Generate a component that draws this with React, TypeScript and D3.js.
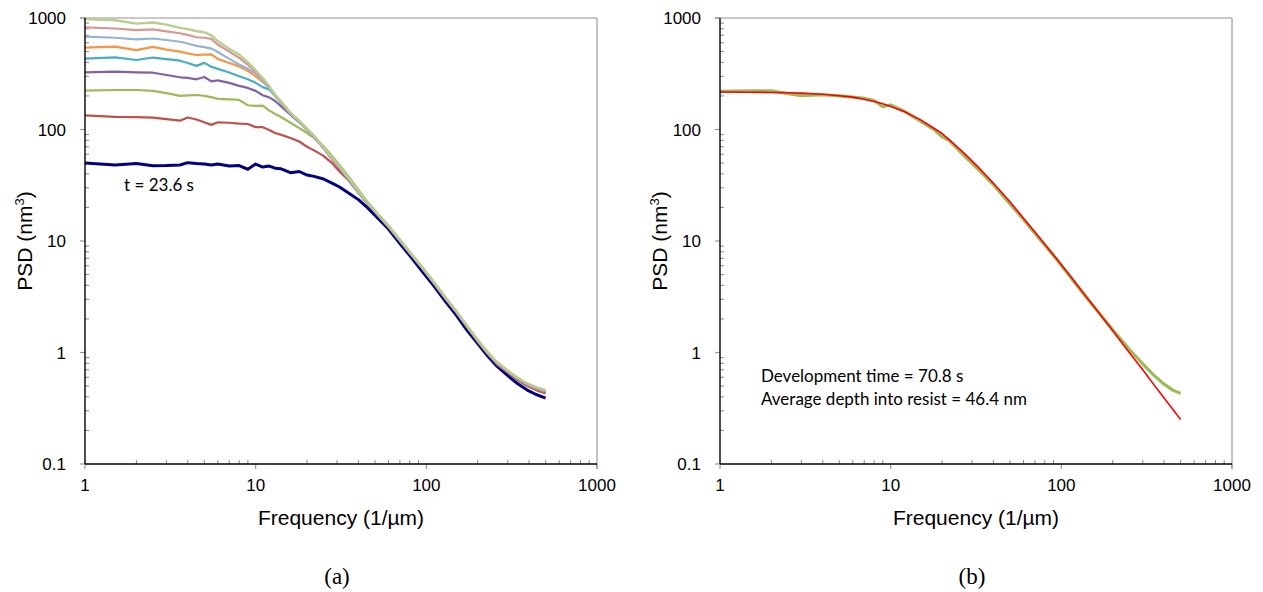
import React from 'react';
import * as d3 from 'd3';

// frequencies (1/um) at which the curves of panel (a) were read
const FREQ_A = [1, 1.5, 2, 2.5, 3, 3.6, 4, 4.5, 5, 5.5, 6, 7, 8, 9, 10, 11, 12, 13, 14, 16, 18, 20, 22, 25, 28, 31, 35, 40, 45, 52, 60, 70, 80, 95, 110, 130, 150, 175, 200, 230, 260, 300, 340, 390, 440, 500];

// PSD (nm^3), one list per development time, shortest first
const PSD_NAVY = [50, 48, 49.5, 47.4, 47.5, 48, 50.4, 49.5, 49, 48, 49, 47, 47.5, 44, 49, 46, 47, 45, 44.5, 41, 42, 39, 38, 36, 33, 30.5, 27, 23.5, 20, 16, 12.8, 9.5, 7.4, 5.3, 4.0, 2.85, 2.15, 1.55, 1.2, 0.92, 0.75, 0.62, 0.53, 0.46, 0.42, 0.39];
const PSD_RED = [134, 130, 129, 128, 124, 120, 128, 123, 116, 110, 116, 115, 113, 112, 105, 105, 99, 93, 90, 84, 78, 70, 65, 58, 50, 42, 35, 27, 21.8, 17, 13.3, 10, 7.75, 5.63, 4.22, 3.0, 2.28, 1.65, 1.25, 0.96, 0.78, 0.66, 0.57, 0.5, 0.46, 0.43];
const PSD_GREEN = [223, 226, 226, 222, 212, 200, 202, 204, 200, 195, 188, 186, 184, 165, 163, 164, 148, 138, 130, 115, 103, 93, 84, 71, 58, 48, 38, 28.8, 22.8, 17.5, 13.6, 10.1, 7.85, 5.7, 4.27, 3.04, 2.31, 1.67, 1.27, 0.98, 0.8, 0.67, 0.58, 0.51, 0.47, 0.44];
const PSD_PURPLE = [326, 330, 326, 323, 308, 294, 290, 282, 296, 270, 276, 262, 246, 236, 222, 203, 194, 180, 163, 136, 116, 99, 85, 68, 54, 45, 35.8, 27.2, 21.9, 17.1, 13.4, 10.05, 7.8, 5.68, 4.26, 3.04, 2.31, 1.67, 1.27, 0.98, 0.8, 0.67, 0.58, 0.51, 0.47, 0.44];
const PSD_TEAL = [432, 444, 420, 442, 428, 414, 395, 372, 396, 365, 350, 325, 300, 282, 262, 240, 228, 200, 176, 139, 117, 99.5, 85.5, 68.5, 54.5, 45.5, 36, 27.3, 22, 17.2, 13.5, 10.1, 7.85, 5.7, 4.28, 3.05, 2.32, 1.68, 1.28, 0.98, 0.8, 0.68, 0.59, 0.52, 0.48, 0.45];
const PSD_ORANGE = [542, 553, 515, 550, 520, 499, 482, 466, 470, 472, 430, 395, 368, 335, 300, 268, 238, 204, 178, 140, 118, 100, 86, 69, 55, 46, 36.5, 27.5, 22.2, 17.3, 13.6, 10.2, 7.9, 5.75, 4.3, 3.08, 2.33, 1.69, 1.29, 0.99, 0.81, 0.68, 0.59, 0.52, 0.48, 0.45];
const PSD_LIGHTBLUE = [680, 665, 642, 655, 635, 612, 590, 562, 548, 532, 495, 430, 383, 350, 318, 272, 235, 200, 176, 139, 117, 99, 85, 68.5, 54.5, 45.5, 36, 27.3, 22, 17.2, 13.5, 10.1, 7.85, 5.7, 4.28, 3.05, 2.32, 1.68, 1.28, 0.98, 0.8, 0.68, 0.59, 0.52, 0.48, 0.45];
const PSD_PINK = [825, 805, 778, 790, 760, 730, 705, 672, 665, 650, 575, 500, 440, 380, 330, 282, 240, 203, 177, 140, 118, 100, 86, 69, 55, 46, 36.5, 27.5, 22.2, 17.3, 13.6, 10.2, 7.9, 5.75, 4.3, 3.08, 2.33, 1.69, 1.29, 0.99, 0.81, 0.68, 0.59, 0.52, 0.48, 0.45];
const PSD_LIGHTGREEN = [980, 955, 890, 912, 872, 815, 795, 760, 745, 700, 620, 530, 470, 400, 340, 290, 245, 205, 180, 142, 120, 102, 88, 70, 56, 47, 37, 28, 22.5, 17.5, 13.8, 10.3, 8.0, 5.8, 4.35, 3.1, 2.35, 1.7, 1.3, 1.0, 0.82, 0.69, 0.6, 0.53, 0.49, 0.46];

// panel (b): measured PSD at 70.8 s and the fitted curve
const FREQ_B = [1, 1.5, 2, 2.5, 3, 4, 5, 6, 7, 8, 9, 10, 12, 15, 18, 20, 22, 27, 33, 40, 50, 60, 75, 90, 110, 135, 165, 200, 250, 300, 350, 400, 450, 500];
const PSD_MEASURED = [220, 222, 222, 210, 201, 205, 200, 195, 190, 182, 160, 166, 146, 118, 100, 86, 80, 58, 43, 32, 21.5, 15.6, 10.3, 7.4, 5.0, 3.35, 2.3, 1.6, 1.07, 0.79, 0.62, 0.52, 0.46, 0.43];
const PSD_FIT = [217, 216, 215, 213.5, 212, 207, 201, 195, 187, 178, 170, 161, 145, 122, 102, 92, 81, 61, 45, 33, 22.5, 16, 10.6, 7.5, 5.1, 3.4, 2.3, 1.57, 1.0, 0.7, 0.51, 0.39, 0.31, 0.25];

const X_TICKS = [1, 10, 100, 1000];
const Y_TICKS = [0.1, 1, 10, 100, 1000];

type Series = { color: string; width: number; freq: number[]; values: number[] };

const seriesA: Series[] = [
  { color: '#000080', width: 3, freq: FREQ_A, values: PSD_NAVY },
  { color: '#C0504D', width: 2.2, freq: FREQ_A, values: PSD_RED },
  { color: '#9BBB59', width: 2.2, freq: FREQ_A, values: PSD_GREEN },
  { color: '#8064A2', width: 2.2, freq: FREQ_A, values: PSD_PURPLE },
  { color: '#4BACC6', width: 2.2, freq: FREQ_A, values: PSD_TEAL },
  { color: '#F79646', width: 2.2, freq: FREQ_A, values: PSD_ORANGE },
  { color: '#95B3D7', width: 2.2, freq: FREQ_A, values: PSD_LIGHTBLUE },
  { color: '#D99694', width: 2.2, freq: FREQ_A, values: PSD_PINK },
  { color: '#B6CF8F', width: 2.4, freq: FREQ_A, values: PSD_LIGHTGREEN },
];

const seriesB: Series[] = [
  { color: '#9BBB59', width: 3.2, freq: FREQ_B, values: PSD_MEASURED },
  { color: '#FF0000', width: 1.6, freq: FREQ_B, values: PSD_FIT },
];

const minors = (decades: number[]) =>
  decades.flatMap(d => d3.range(2, 10).map(m => d * m));

function Panel({ left, right, top, bottom, series, caption, notes }: {
  left: number; right: number; top: number; bottom: number;
  series: Series[]; caption: string; notes: { text: string; dx: number; y: number }[];
}) {
  const x = d3.scaleLog().domain([1, 1000]).range([left, right]);
  const y = d3.scaleLog().domain([0.1, 1000]).range([bottom, top]);
  const line = d3.line<[number, number]>().x(d => x(d[0])).y(d => y(d[1]));
  const cx = (left + right) / 2;
  const tickFont = { fontFamily: 'Liberation Sans, Arial, sans-serif', fontSize: 17, fill: '#000' };

  return (
    <g>
      {/* frame */}
      <line x1={left - 5} x2={right} y1={top} y2={top} stroke="#c8c8c8" strokeWidth={2} />
      <line x1={right} x2={right} y1={top} y2={bottom + 5} stroke="#b0b0b0" strokeWidth={1.5} />

      {/* minor ticks */}
      {minors([1, 10, 100]).map(v => (
        <line key={'mx' + v} x1={x(v)} x2={x(v)} y1={bottom} y2={bottom - 4} stroke="#888" strokeWidth={1} />
      ))}
      {minors([0.1, 1, 10, 100]).map(v => (
        <line key={'my' + v} x1={left} x2={left + 4} y1={y(v)} y2={y(v)} stroke="#888" strokeWidth={1} />
      ))}
      {/* major ticks */}
      {X_TICKS.map(v => (
        <line key={'tx' + v} x1={x(v)} x2={x(v)} y1={bottom} y2={bottom + 5} stroke="#999" strokeWidth={1.2} />
      ))}
      {Y_TICKS.map(v => (
        <line key={'ty' + v} x1={left - 5} x2={left} y1={y(v)} y2={y(v)} stroke="#999" strokeWidth={1.2} />
      ))}

      {/* curves */}
      {series.map((s, i) => (
        <path key={i} d={line(s.freq.map((f, j) => [f, s.values[j]] as [number, number])) || ''}
          fill="none" stroke={s.color} strokeWidth={s.width} strokeLinejoin="round" />
      ))}

      {/* axes */}
      <line x1={left} x2={right} y1={bottom} y2={bottom} stroke="#000" strokeWidth={1.4} />
      <line x1={left} x2={left} y1={top} y2={bottom} stroke="#000" strokeWidth={1.4} />

      {X_TICKS.map(v => (
        <text key={'lx' + v} x={x(v)} y={bottom + 27} textAnchor="middle" {...tickFont}>{v}</text>
      ))}
      {Y_TICKS.map(v => (
        <text key={'ly' + v} x={left - 19} y={y(v) + 6} textAnchor="end" {...tickFont}>{v}</text>
      ))}

      <text x={cx} y={525} textAnchor="middle" fontFamily="Liberation Sans, Arial, sans-serif" fontSize={21}>Frequency (1/µm)</text>
      <text transform={`translate(${left - 53},${(top + bottom) / 2}) rotate(-90)`} textAnchor="middle"
        fontFamily="Liberation Sans, Arial, sans-serif" fontSize={21}>PSD (nm<tspan dy={-8} fontSize={13}>3</tspan><tspan dy={8}>)</tspan></text>

      {notes.map(n => (
        <text key={n.text} x={left + n.dx} y={n.y} fontFamily="Lato, sans-serif" fontSize={17}>{n.text}</text>
      ))}

      <text x={cx - 4} y={584} textAnchor="middle" fontFamily="Liberation Serif, Times New Roman, serif" fontSize={23}>{caption}</text>
    </g>
  );
}

export default function App() {
  return (
    <svg width={1263} height={592} style={{ position: 'absolute', left: 0, top: 0, background: '#fff' }}>
      <rect width={1263} height={592} fill="#fff" />
      <Panel left={85} right={597} top={18} bottom={464} series={seriesA} caption="(a)"
        notes={[{ text: 't = 23.6 s', dx: 39, y: 191 }]} />
      <Panel left={720} right={1232} top={18} bottom={464} series={seriesB} caption="(b)"
        notes={[
          { text: 'Development time = 70.8 s', dx: 41, y: 382 },
          { text: 'Average depth into resist = 46.4 nm', dx: 41, y: 405 },
        ]} />
</svg>
  );
}
